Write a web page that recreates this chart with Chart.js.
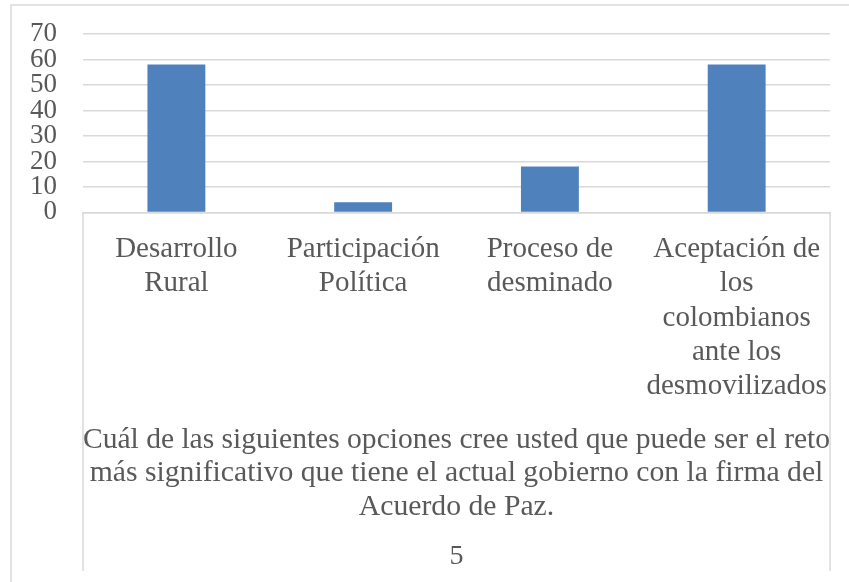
<!DOCTYPE html>
<html>
<head>
<meta charset="utf-8">
<script src="https://cdn.jsdelivr.net/npm/chart.js@4/dist/chart.umd.min.js"></script>
<style>
    html, body { margin: 0; padding: 0; background: #fff; }
    #wrap { width: 849px; height: 582px; }
</style>
</head>
<body>
<div id="wrap"><canvas id="retoChart" width="849" height="582"></canvas></div>
<script>
const categories = [
    ['Desarrollo', 'Rural'],
    ['Participación', 'Política'],
    ['Proceso de', 'desminado'],
    ['Aceptación de', 'los', 'colombianos', 'ante los', 'desmovilizados'],
];
const values = [58, 4, 18, 58];
const groupLabel = [
    'Cuál de las siguientes opciones cree usted que puede ser el reto',
    'más significativo que tiene el actual gobierno con la firma del',
    'Acuerdo de Paz.',
];
const outerLabel = '5';

const serif = "'Liberation Serif', 'Times New Roman', serif";
const lineGray = '#d9d9d9';
const textGray = '#595959';

// frame of the chart + the category box lines under the axis
const framePlugin = {
    id: 'frame',
    beforeDraw(chart) {
        const ctx = chart.ctx;
        ctx.save();
        ctx.strokeStyle = lineGray;
        ctx.lineWidth = 1.5;
        ctx.beginPath();
        ctx.moveTo(11, chart.height);
        ctx.lineTo(11, 5);
        ctx.lineTo(chart.width, 5);
        ctx.stroke();
        ctx.restore();
    },
    afterDraw(chart) {
        const { ctx, chartArea } = chart;
        ctx.save();
        ctx.strokeStyle = lineGray;
        ctx.lineWidth = 1.5;
        ctx.beginPath();
        ctx.moveTo(chartArea.left, chartArea.bottom);
        ctx.lineTo(chartArea.left, 571);
        ctx.moveTo(chartArea.right, chartArea.bottom);
        ctx.lineTo(chartArea.right, 571);
        ctx.stroke();
        ctx.restore();
    },
};

const ctx = document.getElementById('retoChart').getContext('2d');
new Chart(ctx, {
    type: 'bar',
    data: {
        labels: categories,
        datasets: [
            {
                data: values,
                backgroundColor: '#4f81bd',
                borderWidth: 0,
                barPercentage: 0.31,
                categoryPercentage: 1,
            },
        ],
    },
    options: {
        responsive: false,
        animation: false,
        layout: {
            padding: { left: 0, right: 17, top: 34, bottom: 0 },
        },
        plugins: {
            legend: { display: false },
            tooltip: { enabled: false },
            title: {
                display: true,
                position: 'bottom',
                fullSize: false,
                text: outerLabel,
                color: textGray,
                font: { family: serif, size: 28, weight: 'normal', lineHeight: 1.2 },
                padding: { top: 0, bottom: 9 },
            },
        },
        scales: {
            x: {
                grid: { display: false, drawTicks: false },
                border: { display: true, color: lineGray, width: 1.5 },
                ticks: {
                    color: textGray,
                    font: { family: serif, size: 29, lineHeight: 1.18 },
                    padding: 20,
                    minRotation: 0,
                    maxRotation: 0,
                    autoSkip: false,
                },
                title: {
                    display: true,
                    text: groupLabel,
                    color: textGray,
                    font: { family: serif, size: 29.7, lineHeight: 1.14 },
                    padding: { top: 0, bottom: 15 },
                },
                afterFit(scale) {
                    scale.height = 327;
                },
            },
            y: {
                min: 0,
                max: 70,
                grid: {
                    color: lineGray,
                    lineWidth: 1.5,
                    drawTicks: true,
                    tickLength: 26,
                    tickColor: 'rgba(0,0,0,0)',
                },
                border: { display: false },
                ticks: {
                    stepSize: 10,
                    color: textGray,
                    font: { family: serif, size: 27, lineHeight: 1 },
                    padding: 0,
                    autoSkip: false,
                },
                afterFit(scale) {
                    scale.width = 83;
                },
            },
        },
    },
    plugins: [framePlugin],
});
</script>
</body>
</html>
